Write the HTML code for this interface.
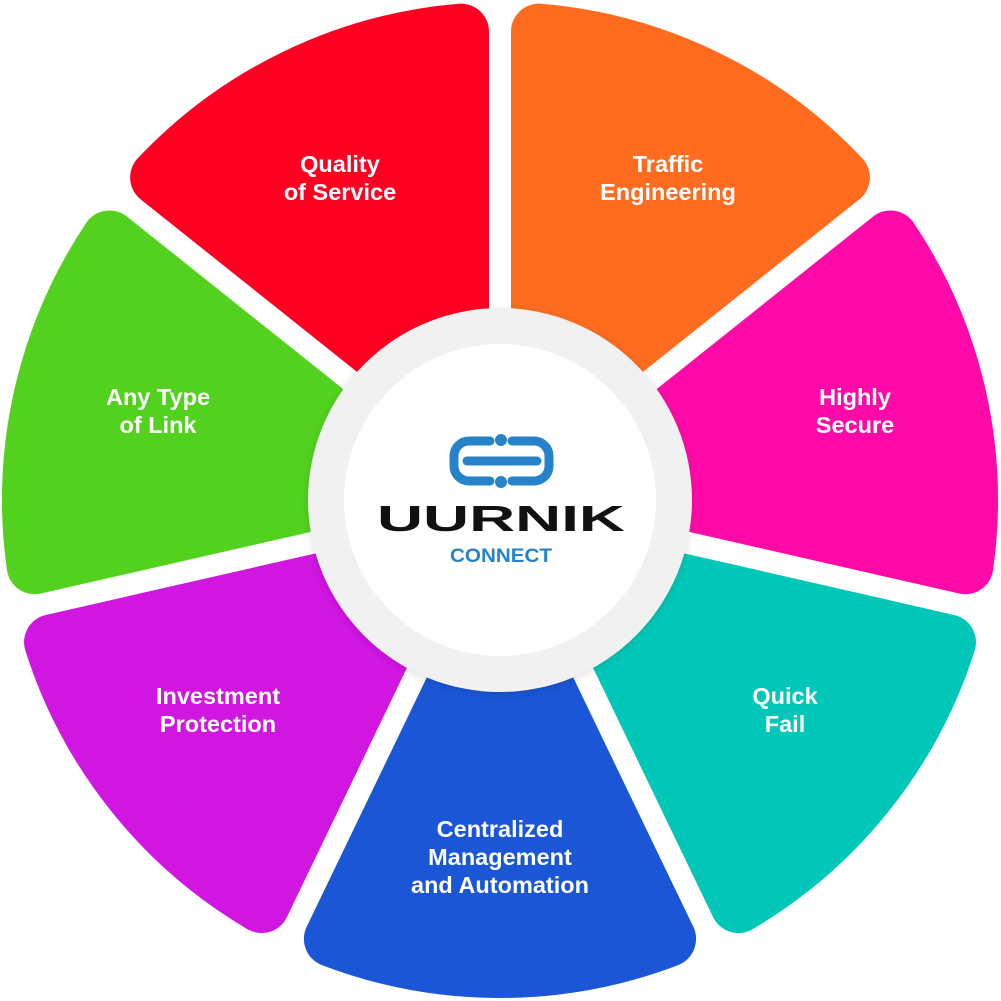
<!DOCTYPE html>
<html><head><meta charset="utf-8"><style>
html,body{margin:0;padding:0;background:#fff;width:1001px;height:1001px;overflow:hidden}
svg{display:block}
text{font-family:"Liberation Sans",sans-serif;font-weight:bold;fill:#fff;font-size:23.5px;text-anchor:middle}
</style></head><body>
<svg id="s" width="1001" height="1001" viewBox="0 0 1001 1001">
<defs><filter id="sh" x="-20%" y="-20%" width="140%" height="140%"><feGaussianBlur stdDeviation="4"/></filter></defs>
<g id="segs"></g>
<circle cx="500" cy="502" r="192" fill="#000" opacity="0.12" filter="url(#sh)"/>
<circle cx="500" cy="500" r="192" fill="#f1f1f1"/>
<circle cx="500" cy="500" r="156" fill="#fff"/>
<g fill="none" stroke="#2683c9" stroke-width="9" stroke-linecap="round">
<path d="M490 441 H469 A15 15 0 0 0 454 456 V466 A15 15 0 0 0 469 481 H490"/>
<path d="M512 441 H534 A15 15 0 0 1 549 456 V466 A15 15 0 0 1 534 481 H512"/>
<line x1="467" y1="461" x2="537" y2="461"/>
</g>
<circle cx="501" cy="440" r="6" fill="#2683c9"/>
<circle cx="501" cy="482" r="6" fill="#2683c9"/>
<text x="501" y="531" textLength="248" lengthAdjust="spacingAndGlyphs" style="fill:#111;font-size:36px;font-weight:bold">UURNIK</text>
<text x="501" y="562" textLength="102" lengthAdjust="spacingAndGlyphs" style="fill:#2683c9;font-size:19px;font-weight:bold">CONNECT</text>
<g id="labels">
<text x="340" y="172">Quality</text><text x="340" y="200">of Service</text>
<text x="668" y="172">Traffic</text><text x="668" y="200">Engineering</text>
<text x="855" y="405">Highly</text><text x="855" y="433">Secure</text>
<text x="785" y="704">Quick</text><text x="785" y="732">Fail</text>
<text x="500" y="837">Centralized</text><text x="500" y="865">Management</text><text x="500" y="893">and Automation</text>
<text x="218" y="704">Investment</text><text x="218" y="732">Protection</text>
<text x="158" y="405">Any Type</text><text x="158" y="433">of Link</text>
</g>
</svg>
<script>
var cols=["#ff6b1f","#ff0aa8","#00c7b7","#1a56d6","#d016e0","#52d11f","#ff0022"];
var cx=500,cy=500,Ro=498,Ri=140,c=28,d=11+c,n=7,g=document.getElementById("segs"),h="";
function pt(r,a){return [cx+r*Math.sin(a),cy-r*Math.cos(a)];}
for(var i=0;i<n;i++){
 var a0=i*2*Math.PI/n,a1=(i+1)*2*Math.PI/n;
 var ro=Ro-c,ri=Ri+c;
 var o0=a0+Math.asin(d/ro),o1=a1-Math.asin(d/ro),i0=a0+Math.asin(d/ri),i1=a1-Math.asin(d/ri);
 var p1=pt(ro,o0),p2=pt(ro,o1),p3=pt(ri,i1),p4=pt(ri,i0);
 var path="M"+p1+" A"+ro+" "+ro+" 0 0 1 "+p2+" L"+p3+" A"+ri+" "+ri+" 0 0 0 "+p4+" Z";
 h+='<path d="'+path+'" fill="'+cols[i]+'" stroke="'+cols[i]+'" stroke-width="'+(2*c)+'" stroke-linejoin="round"/>';
}
g.innerHTML=h;
</script>
</body></html>
